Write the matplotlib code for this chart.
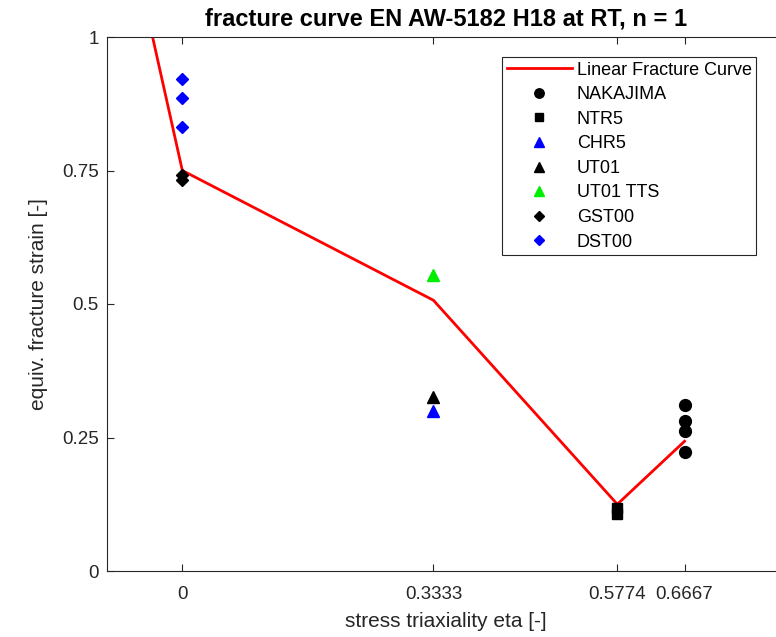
import matplotlib
matplotlib.use("Agg")
import matplotlib.pyplot as plt

plt.rcParams["font.family"] = ["Liberation Sans", "DejaVu Sans"]

# linear fracture curve
curve_eta = [-0.0395, 0.0, 0.3333, 0.5774, 0.6667]
curve_eps = [1.0, 0.75, 0.507, 0.125, 0.243]

# test points
nakajima_eta = [0.6667, 0.6667, 0.6667, 0.6667]
nakajima_eps = [0.310, 0.281, 0.263, 0.222]
ntr5_eta = [0.5774, 0.5774]
ntr5_eps = [0.118, 0.107]
chr5_eta = [0.3333]
chr5_eps = [0.300]
ut01_eta = [0.3333]
ut01_eps = [0.326]
ut01tts_eta = [0.3333]
ut01tts_eps = [0.554]
gst00_eta = [0.0, 0.0]
gst00_eps = [0.742, 0.732]
dst00_eta = [0.0, 0.0, 0.0]
dst00_eps = [0.921, 0.885, 0.831]

xticks = [0, 0.3333, 0.5774, 0.6667]
xticklabels = ["0", "0.3333", "0.5774", "0.6667"]
yticks = [0, 0.25, 0.5, 0.75, 1]
yticklabels = ["0", "0.25", "0.5", "0.75", "1"]

fig = plt.figure(figsize=(7.76, 6.37), dpi=100)
ax = fig.add_axes([107 / 776, 1 - 571 / 637, 678 / 776, 534 / 637])

ax.plot(curve_eta, curve_eps, color="red", lw=2, label="Linear Fracture Curve")
ax.plot(nakajima_eta, nakajima_eps, "o", color="black", ms=8.5, ls="none", label="NAKAJIMA")
ax.plot(ntr5_eta, ntr5_eps, "s", color="black", ms=7, ls="none", label="NTR5")
ax.plot(chr5_eta, chr5_eps, "^", color="blue", ms=8.5, ls="none", label="CHR5")
ax.plot(ut01_eta, ut01_eps, "^", color="black", ms=8.5, ls="none", label="UT01")
ax.plot(ut01tts_eta, ut01tts_eps, "^", color="#00ee00", ms=8.5, ls="none", label="UT01 TTS")
ax.plot(gst00_eta, gst00_eps, "D", color="black", ms=6.5, ls="none", label="GST00")
ax.plot(dst00_eta, dst00_eps, "D", color="blue", ms=6.5, ls="none", label="DST00")

ax.set_xlim(-0.1, 0.8)
ax.set_ylim(0, 1)
ax.set_xticks(xticks)
ax.set_xticklabels(xticklabels)
ax.set_yticks(yticks)
ax.set_yticklabels(yticklabels)
ax.tick_params(direction="in", top=True, right=True, labelsize=13.5,
               colors="#262626", length=5)
ax.tick_params(axis="x", pad=11)
ax.tick_params(axis="y", pad=6)
for s in ax.spines.values():
    s.set_color("#262626")

ax.set_xlabel("stress triaxiality eta [-]", fontsize=15, color="#262626", labelpad=6)
ax.set_ylabel("equiv. fracture strain [-]", fontsize=15, color="#262626", labelpad=10)
ax.set_title("fracture curve EN AW-5182 H18 at RT, n = 1", fontsize=17,
             fontweight="bold", pad=8)

leg = ax.legend(loc="upper left", bbox_to_anchor=(395 / 678, 1 - 20 / 534),
                borderaxespad=0, fontsize=13, fancybox=False, framealpha=1,
                edgecolor="#262626", handlelength=3.6, borderpad=0.25,
                labelspacing=0.42, handletextpad=0.3, markerscale=0.8)
leg.get_frame().set_linewidth(0.8)

fig.savefig("out.png", dpi=100)
